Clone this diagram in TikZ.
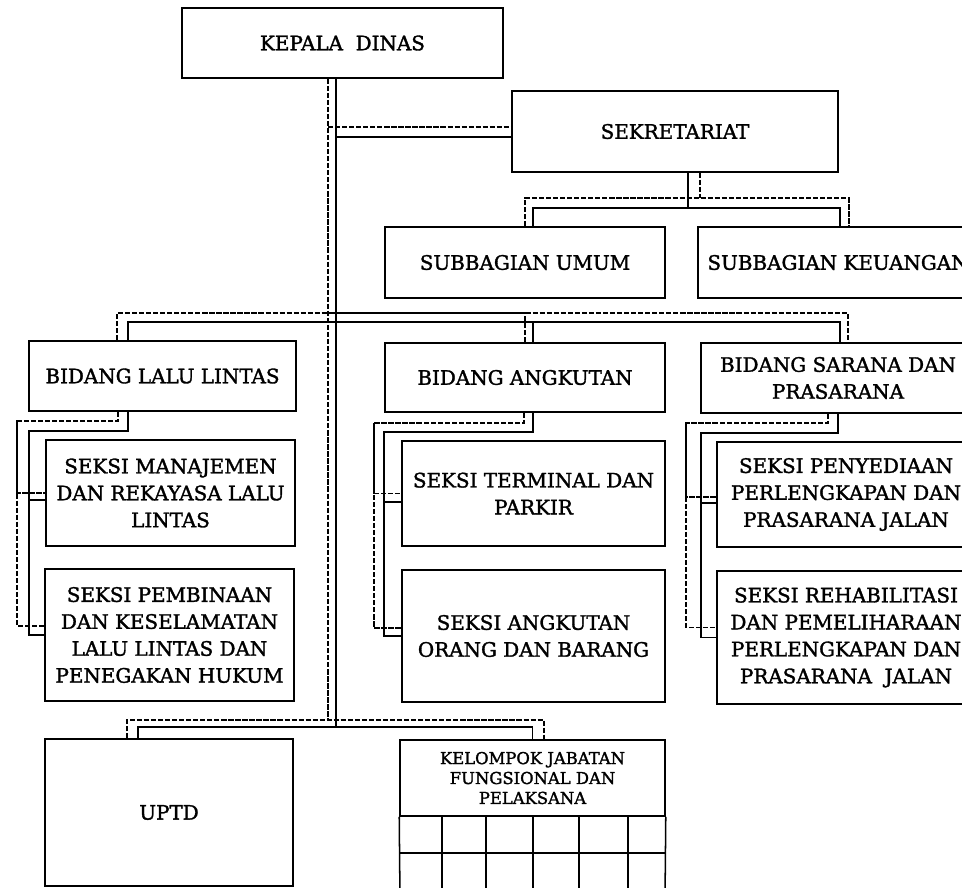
\documentclass[tikz,border=0pt]{standalone}
\usepackage{fontspec}
\setmainfont[FakeBold=1.6,AutoFakeBold=1.6]{DejaVu Serif}
\usetikzlibrary{calc}
\begin{document}
\begin{tikzpicture}[x=0.03cm, y=-0.03cm]
  \tikzstyle{box}=[draw, line width=1.3pt, align=center, inner sep=0pt, font=\fontsize{17}{23}\selectfont\bfseries]
  \tikzstyle{sln}=[line width=1.3pt]
  \tikzstyle{dln}=[line width=1pt, dash pattern=on 4.5pt off 1.5pt]
  \tikzstyle{cell}=[line width=1.3pt]

  \clip (0,0) rectangle (962,887);
  \fill[white] (0,0) rectangle (962,887);

  % top
  \node[box, minimum width=9.63cm, minimum height=2.1cm]  (kd)  at (342.5,43)  {KEPALA\ \ DINAS};
  \node[box, minimum width=9.78cm, minimum height=2.43cm] (sek) at (675,131.5) {SEKRETARIAT};
  \node[box, minimum width=8.4cm, minimum height=2.13cm]  (sbu) at (525,262.5) {SUBBAGIAN UMUM};
  \node[box, minimum width=8.4cm, minimum height=2.13cm]  (sbk) at (838,262.5) {SUBBAGIAN KEUANGAN};

  % bidang
  \node[box, minimum width=8.01cm, minimum height=2.1cm]  (bll) at (162.5,376) {BIDANG LALU LINTAS};
  \node[box, minimum width=8.4cm, minimum height=2.07cm]  (ba)  at (525,377.5) {BIDANG ANGKUTAN};
  \node[box, minimum width=8.22cm, minimum height=2.1cm]  (bsp) at (838,378)   {BIDANG SARANA DAN\\PRASARANA};

  % seksi
  \node[box, minimum width=7.47cm, minimum height=3.18cm] (smr) at (170.5,493) {SEKSI MANAJEMEN\\DAN REKAYASA LALU\\LINTAS};
  \node[box, minimum width=7.47cm, minimum height=3.96cm] (spk) at (169.5,635) {SEKSI PEMBINAAN\\DAN KESELAMATAN\\LALU LINTAS DAN\\PENEGAKAN HUKUM};
  \node[box, minimum width=7.89cm, minimum height=3.15cm] (stp) at (533.5,493.5) {SEKSI TERMINAL DAN\\PARKIR};
  \node[box, minimum width=7.89cm, minimum height=3.96cm] (sao) at (533.5,636) {SEKSI ANGKUTAN\\ORANG DAN BARANG};
  \node[box, minimum width=7.74cm, minimum height=3.15cm] (spp) at (846,494.5) {SEKSI PENYEDIAAN\\PERLENGKAPAN DAN\\PRASARANA JALAN};
  \node[box, minimum width=7.74cm, minimum height=3.99cm] (srp) at (846,637.5) {SEKSI REHABILITASI\\DAN PEMELIHARAAN\\PERLENGKAPAN DAN\\PRASARANA\ \ JALAN};

  % bottom
  \node[box, minimum width=7.44cm, minimum height=4.41cm] (uptd) at (169,812.5) {UPTD};
  \node[box, minimum width=7.95cm, minimum height=2.28cm, font=\fontsize{14}{17}\selectfont\bfseries] (kjf) at (532.5,778) {KELOMPOK JABATAN\\FUNGSIONAL DAN\\PELAKSANA};
  \draw[cell] (kjf.south west) -- (400,900);
  \draw[cell] (kjf.south east) -- (665,900);
  \draw[cell] (400,853) -- (665,853);
  \foreach \x in {442,486,533,579,628}
    \draw[cell] (\x,816) -- (\x,900);

  % trunk
  \coordinate (tS) at (336,0);
  \coordinate (tD) at (328,0);
  \coordinate (rS) at (0,727);
  \coordinate (rD) at (0,720);
  \draw[sln] (kd.south -| tS) -- (tS |- rS);
  \draw[dln] (kd.south -| tD) -- (tD |- rD);

  % sekretariat
  \coordinate (sekS) at ($(sek.west)+(0,5.5)$);
  \coordinate (sekD) at ($(sek.west)+(0,-4.5)$);
  \draw[sln] (tS |- sekS) -- (sekS);
  \draw[dln] (tD |- sekD) -- (sekD);

  \coordinate (jS) at (688,208);
  \coordinate (jD) at (700,198);
  \draw[sln] ($(sek.south)+(13,0)$) -- (jS);
  \draw[sln] ($(sbu.north)+(8,0)$) |- (jS) -| ($(sbk.north)+(2,0)$);
  \draw[dln] ($(sek.south)+(25,0)$) -- (jD);
  \draw[dln] (sbu.north) |- (jD) -| ($(sbk.north)+(11,0)$);

  % bidang rail
  \coordinate (bS) at (0,322);
  \coordinate (bD) at (0,313);
  \draw[sln] ($(bll.north)+(-34.5,0)$) |- (tS |- bS) -| ($(bsp.north)+(2,0)$);
  \draw[dln] ($(bll.north)+(-45.5,0)$) |- (tD |- bD) -| ($(bsp.north)+(10,0)$);
  \draw[sln] ($(ba.north)+(8,0)$) |- (tS |- bS);
  \draw[dln] (ba.north) |- (tD |- bD);

  % lalu lintas
  \coordinate (llS) at (29,431);
  \coordinate (llD) at (17,421);
  \draw[sln] ($(bll.south)+(-34.5,0)$) |- (llS) |- (spk.west);
  \draw[sln] (llS) |- ($(smr.west)+(0,7)$);
  \draw[dln] ($(bll.south)+(-44.5,0)$) |- (llD) |- ($(spk.west)+(0,-9)$);
  \draw[dln] (llD) |- (smr.west);

  % angkutan
  \coordinate (aS) at (384,432);
  \coordinate (aD) at (374,423);
  \draw[sln] ($(ba.south)+(8,0)$) |- (aS) |- (sao.west);
  \draw[sln] (aS) |- ($(stp.west)+(0,8.5)$);
  \draw[dln] ($(ba.south)+(-1,0)$) |- (aD) |- ($(sao.west)+(0,-8)$);
  \draw[dln] (aD) |- (stp.west);

  % sarana
  \coordinate (sS) at (701,433);
  \coordinate (sD) at (686,423);
  \draw[sln] (bsp.south) |- (sS) |- (srp.west);
  \draw[sln] (sS) |- ($(spp.west)+(0,8.5)$);
  \draw[dln] ($(bsp.south)+(-10,0)$) |- (sD) |- ($(srp.west)+(0,-10)$);
  \draw[dln] (sD) |- ($(spp.west)+(0,2.5)$);

  % bottom rail
  \draw[sln] ($(uptd.north)+(-31,0)$) |- (tS |- rS) -| (kjf.north);
  \draw[dln] ($(uptd.north)+(-42,0)$) |- (tD |- rD) -| ($(kjf.north)+(11.5,0)$);
\end{tikzpicture}
\end{document}
